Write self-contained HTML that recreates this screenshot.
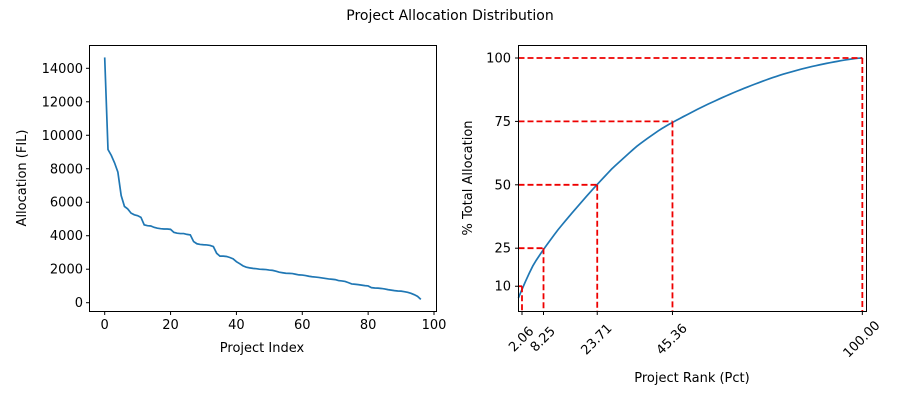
<!DOCTYPE html>
<html><head><meta charset="utf-8"><style>
body{margin:0;background:#fff}
svg{display:block}
text{font-family:"DejaVu Sans","Liberation Sans",sans-serif;font-size:13px;fill:#000}
</style></head><body>
<svg id="s" width="900" height="400" xmlns="http://www.w3.org/2000/svg"></svg>
<script>
const d=[14650,9150,8800,8350,7800,6400,5750,5600,5350,5250,5200,5100,4650,4600,4580,4500,4450,4420,4400,4400,4380,4200,4150,4130,4130,4080,4050,3650,3520,3480,3460,3450,3420,3350,2950,2780,2780,2760,2700,2620,2450,2330,2200,2120,2080,2050,2030,2000,1990,1980,1950,1930,1880,1820,1790,1760,1750,1740,1700,1660,1650,1620,1580,1550,1530,1510,1480,1450,1420,1400,1380,1320,1300,1270,1200,1120,1100,1080,1050,1020,1000,900,880,870,850,820,780,750,720,700,690,660,620,560,480,380,200];
let h='';
h+='<text x="450" y="20" text-anchor="middle" style="font-size:14px">Project Allocation Distribution</text>';
const lx=v=>104.7+v*3.293, ly=v=>302.7-v*(234.4/14000);
h+='<rect x="89.5" y="45.5" width="347" height="266" fill="none" stroke="#000" stroke-width="1"/>';
for(let v=0;v<=100;v+=20){const x=lx(v);h+=`<line x1="${x}" y1="311.5" x2="${x}" y2="315" stroke="#000"/><text x="${x}" y="329" text-anchor="middle">${v}</text>`;}
for(let v=0;v<=14000;v+=2000){const y=ly(v);h+=`<line x1="86" y1="${y}" x2="89.5" y2="${y}" stroke="#000"/><text x="83" y="${y+4.5}" text-anchor="end">${v}</text>`;}
h+=`<polyline fill="none" stroke="#1f77b4" stroke-width="1.7" points="${d.map((v,i)=>lx(i)+','+ly(v)).join(' ')}"/>`;
h+='<text x="262" y="352" text-anchor="middle">Project Index</text>';
h+='<text transform="translate(26,178) rotate(-90)" text-anchor="middle">Allocation (FIL)</text>';
const tot=d.reduce((a,b)=>a+b,0);
const rx=v=>522+(v-2.06)*3.475, ry=v=>58+(100-v)*2.536;
let c=0,pts=[];d.forEach((v,i)=>{c+=v;pts.push(rx((i+1)/97*100)+','+ry(c/tot*100));});
h+=`<polyline fill="none" stroke="#1f77b4" stroke-width="1.7" points="${pts.join(' ')}"/>`;
const marks=[[2.06,10,'2.06'],[8.25,25,'8.25'],[23.71,50,'23.71'],[45.36,75,'45.36'],[100,100,'100.00']];
marks.forEach(([xv,yv])=>{const x=rx(xv),y=ry(yv);
h+=`<line x1="518.5" y1="${y}" x2="${x}" y2="${y}" stroke="#e00" stroke-width="1.8" stroke-dasharray="6,3"/>`;
h+=`<line x1="${x}" y1="${y}" x2="${x}" y2="311" stroke="#e00" stroke-width="1.8" stroke-dasharray="6,3"/>`;});
h+='<rect x="518.5" y="45.5" width="348" height="266" fill="none" stroke="#000" stroke-width="1"/>';
marks.forEach(([xv,yv,l])=>{const x=rx(xv);h+=`<line x1="${x}" y1="311.5" x2="${x}" y2="315" stroke="#000"/><text transform="translate(${x-1},${339}) rotate(-45)" text-anchor="middle" dy="4.5">${l}</text>`;});
[10,25,50,75,100].forEach(v=>{const y=ry(v);h+=`<line x1="515" y1="${y}" x2="518.5" y2="${y}" stroke="#000"/><text x="511" y="${y+4.5}" text-anchor="end">${v}</text>`;});
h+='<text x="692" y="382" text-anchor="middle">Project Rank (Pct)</text>';
h+='<text transform="translate(472,178) rotate(-90)" text-anchor="middle">% Total Allocation</text>';
document.getElementById('s').innerHTML=h;
</script>
</body></html>
